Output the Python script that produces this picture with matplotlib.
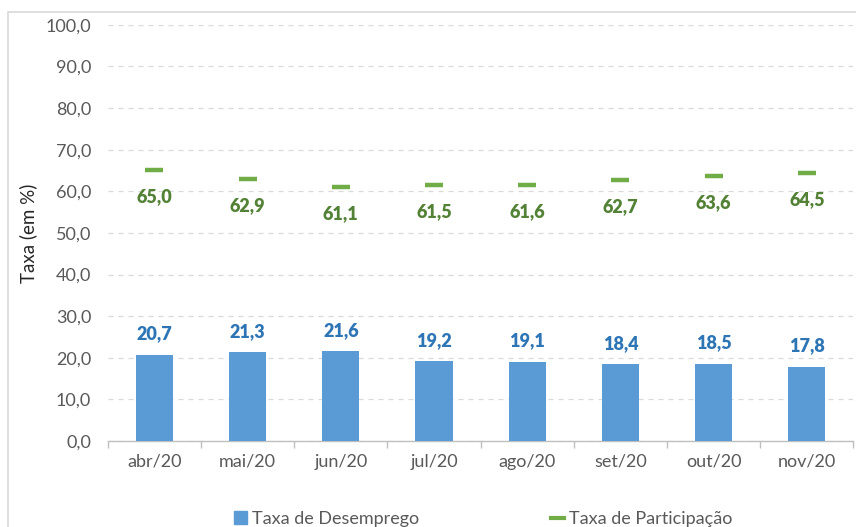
import numpy as np
import matplotlib.pyplot as plt
from matplotlib.patches import Rectangle
from matplotlib.lines import Line2D

meses = ["abr/20", "mai/20", "jun/20", "jul/20", "ago/20", "set/20", "out/20", "nov/20"]
desemprego = [20.7, 21.3, 21.6, 19.2, 19.1, 18.4, 18.5, 17.8]
participacao = [65.0, 62.9, 61.1, 61.5, 61.6, 62.7, 63.6, 64.5]

plt.rcParams["font.family"] = ["Lato", "DejaVu Sans"]

BLUE = "#5B9BD5"
BLUE_TXT = "#2E75B6"
GREEN = "#70AD47"
GREEN_TXT = "#538135"
GRAY = "#595959"

fig = plt.figure(figsize=(8.56, 5.27), dpi=100)
ax = fig.add_axes([0.126, 0.163, 0.871, 0.790])

# outer chart frame
fig.patches.append(Rectangle((8 / 856, -0.1), 1.0, (527 - 12) / 527 + 0.1,
                             transform=fig.transFigure, fill=False,
                             edgecolor="#D9D9D9", linewidth=1.2, zorder=0))

x = np.arange(len(meses))
ax.bar(x, desemprego, width=0.4, color=BLUE, zorder=3)
ax.plot(x, participacao, linestyle="none", marker="_", markersize=13,
        markeredgewidth=3.2, color=GREEN, zorder=4)

for xi, v in zip(x, desemprego):
    ax.annotate(f"{v:.1f}".replace(".", ","), (xi, v), xytext=(0, 9),
                textcoords="offset points", ha="center", va="bottom",
                fontsize=13, fontweight="heavy", color=BLUE_TXT)
for xi, v in zip(x, participacao):
    ax.annotate(f"{v:.1f}".replace(".", ","), (xi, v), xytext=(0, -13),
                textcoords="offset points", ha="center", va="top",
                fontsize=13, fontweight="heavy", color=GREEN_TXT)

ax.set_xlim(-0.5, len(meses) - 0.5)
ax.set_ylim(0, 100)
ax.set_yticks(np.arange(0, 101, 10))
ax.set_yticklabels([f"{t:.1f}".replace(".", ",") for t in np.arange(0, 101, 10)])
ax.set_xticks(x)
ax.set_xticklabels(meses)
ax.set_xticks(np.arange(-0.5, len(meses), 1), minor=True)

ax.tick_params(axis="y", length=0, labelsize=13, colors=GRAY, pad=12)
ax.tick_params(axis="x", which="major", length=0, labelsize=13, colors=GRAY, pad=9)
ax.tick_params(axis="x", which="minor", length=5, color="#BFBFBF", width=1)

ax.yaxis.grid(True, linestyle=(0, (4, 4)), color="#D9D9D9", linewidth=0.9, zorder=0)
ax.set_axisbelow(True)
for s in ["top", "right", "left"]:
    ax.spines[s].set_visible(False)
ax.spines["bottom"].set_color("#BFBFBF")
ax.spines["bottom"].set_linewidth(1)

ax.set_ylabel("Taxa (em %)", fontsize=13.5, color="#262626", labelpad=6)

handles = [
    Rectangle((0, 0), 1, 1, color=BLUE),
    Line2D([0], [0], color=GREEN, linewidth=3),
]
fig.legend(handles, ["Taxa de Desemprego", "Taxa de Participação"],
           loc="center", bbox_to_anchor=(0.565, 0.015), ncol=2, frameon=False,
           fontsize=13, labelcolor=GRAY, handlelength=0.7, handleheight=0.7,
           handletextpad=0.3, columnspacing=7.3)

fig.savefig("out.png", dpi=100)
